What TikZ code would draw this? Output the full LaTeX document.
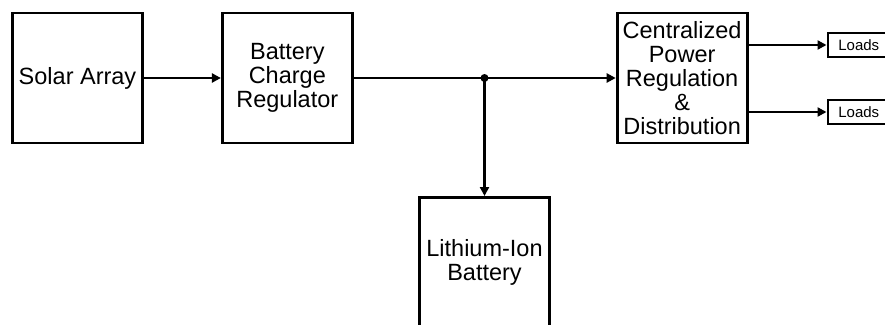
\documentclass[tikz,border=0pt]{standalone}
\usepackage{fontspec}
\setmainfont{Liberation Sans}
\usetikzlibrary{positioning,arrows.meta}

\begin{document}
\begin{tikzpicture}[x=1pt,y=1pt,
      node distance=77pt,
      blk/.style={draw=black,line width=2.8pt,fill=white,minimum width=130pt,minimum height=130pt,inner sep=0pt,align=center,font=\fontsize{23.5}{24}\selectfont},
      ld/.style={draw=black,line width=2.6pt,fill=white,minimum width=62pt,minimum height=24pt,inner sep=0pt,font=\fontsize{15}{16}\selectfont},
      arr/.style={-{Triangle[length=9pt,width=9pt]},line width=2.6pt}]
    \useasboundingbox (0,0) rectangle (885,-324);
    \node[blk] (sa) at (77.5,-78) {Solar Array};
    \node[blk,right=77pt of sa] (bcr) {Battery\\Charge\\Regulator};
    \node[blk,right=262pt of bcr] (cprd) {Centralized\\Power\\Regulation\\\&\\Distribution};
    \coordinate (jn) at (484.5,-78);
    \node[blk,below=118pt of jn] (bat) {Lithium-Ion\\Battery};
    \coordinate (o1) at ([yshift=33pt]cprd.east);
    \coordinate (o2) at ([yshift=-34pt]cprd.east);
    \node[ld,right=78pt of o1] (l1) {Loads};
    \node[ld,right=78pt of o2] (l2) {Loads};
    \draw[arr] (sa) -- (bcr);
    \draw[arr] (bcr) -- (cprd);
    \draw[arr] (jn) -- (bat);
    \fill (jn) circle (4pt);
    \draw[arr] (o1) -- (l1);
    \draw[arr] (o2) -- (l2);
  \end{tikzpicture}
\end{document}
